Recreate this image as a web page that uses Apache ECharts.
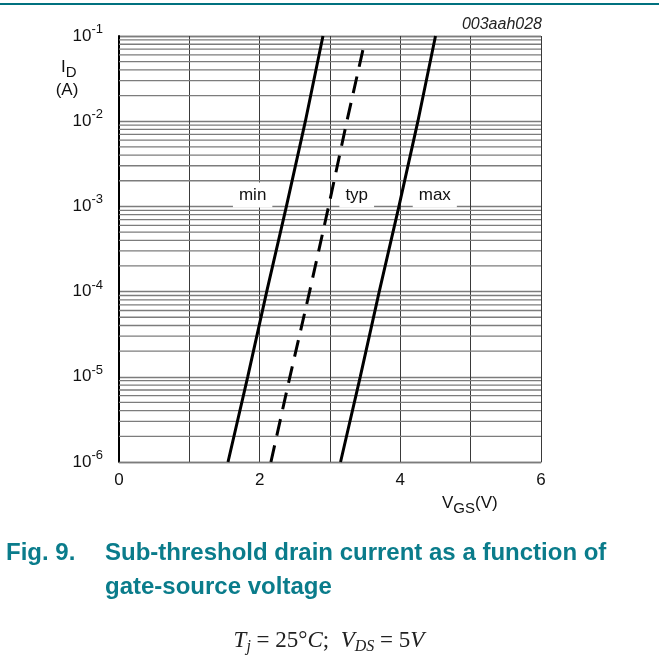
<!DOCTYPE html>
<html>
<head>
<meta charset="utf-8">
<script src="https://cdn.jsdelivr.net/npm/echarts@6/dist/echarts.min.js"></script>
<style>
  html, body { margin: 0; padding: 0; background: #fff; }
  #chart { width: 659px; height: 670px; }
</style>
</head>
<body>
<div id="chart"></div>
<script>
// Sub-threshold drain current I_D (A) against gate-source voltage V_GS (V)
const currentLevels = [1e-6, 1e-5, 1e-4, 1e-3, 1e-2, 1e-1];
const vgsMin = [1.55, 1.83, 2.10, 2.38, 2.65, 2.90];
const vgsTyp = [2.16, 2.43, 2.71, 2.98, 3.24, 3.48];
const idTyp  = [1e-6, 1e-5, 1e-4, 1e-3, 1e-2, 7.6e-2];
const vgsMax = [3.15, 3.43, 3.70, 3.98, 4.25, 4.50];
const xTickLabels = ['0', '2', '4', '6'];

const pair = (xs, ys) => xs.map((x, i) => [x, ys[i]]);

// 2..9 x 10^n lines between the decades
const minorLevels = [];
for (let e = -6; e < -1; e++) {
  for (let m = 2; m <= 9; m++) minorLevels.push(m * Math.pow(10, e));
}

const TEAL = '#0a7c8b';
const GRID_H = '#7c7c7c';
const FONT = 'Liberation Sans, Arial, sans-serif';
const SERIF = 'Liberation Serif, Times New Roman, serif';

const chart = echarts.init(document.getElementById('chart'), null, { renderer: 'canvas' });

const curveStyle = { color: '#000', width: 3 };

// one thin horizontal rule per minor log level, spanning the x range
const minorGridSeries = minorLevels.map(v => ({
  type: 'line',
  data: [[0, v], [6, v]],
  symbol: 'none',
  silent: true,
  z: 1,
  lineStyle: { color: GRID_H, width: 1.3 }
}));

chart.setOption({
  animation: false,
  backgroundColor: '#fff',
  grid: { left: 119, right: 118, top: 36, bottom: 208 },
  xAxis: {
    type: 'value',
    min: 0, max: 6, interval: 1,
    axisLine: { show: true, lineStyle: { color: GRID_H, width: 1.3 } },
    axisTick: { show: false },
    axisLabel: {
      margin: 10,
      fontFamily: FONT, fontSize: 17, color: '#111',
      formatter: v => (xTickLabels.includes(String(v)) ? String(v) : '')
    },
    splitLine: { show: true, lineStyle: { color: '#3a3a3a', width: 1 } }
  },
  yAxis: {
    type: 'log',
    logBase: 10,
    min: 1e-6, max: 1e-1,
    axisLine: { show: true, lineStyle: { color: '#000', width: 2 } },
    axisTick: { show: false },
    axisLabel: {
      margin: 16,
      formatter: v => '{a|10}{b|' + Math.round(Math.log10(v)) + '}',
      rich: {
        a: { fontFamily: FONT, fontSize: 17, color: '#111' },
        b: { fontFamily: FONT, fontSize: 13, color: '#111', padding: [0, 0, 13, 0] }
      }
    },
    splitLine: { show: true, lineStyle: { color: GRID_H, width: 1.3 } }
  },
  series: minorGridSeries.concat([
    {
      name: 'min', type: 'line', data: pair(vgsMin, currentLevels),
      symbol: 'none', lineStyle: curveStyle, z: 5
    },
    {
      name: 'typ', type: 'line', data: pair(vgsTyp, idTyp),
      symbol: 'none', lineStyle: { color: '#000', width: 3, type: [17, 10] }, z: 5
    },
    {
      name: 'max', type: 'line', data: pair(vgsMax, currentLevels),
      symbol: 'none', lineStyle: curveStyle, z: 5
    },
    {
      name: 'curve-names',
      type: 'scatter',
      symbolSize: 0,
      silent: true,
      z: 6,
      itemStyle: { opacity: 1 },
      data: [
        { value: [1.90, 1.36e-3], name: 'min' },
        { value: [3.38, 1.36e-3], name: 'typ' },
        { value: [4.49, 1.36e-3], name: 'max' }
      ],
      label: {
        show: true,
        position: 'inside',
        formatter: p => p.name,
        fontFamily: FONT, fontSize: 17, color: '#111',
        opacity: 1,
        backgroundColor: '#fff',
        padding: [4, 6, 4, 6]
      }
    }
  ]),
  graphic: [
    { type: 'rect', shape: { x: 0, y: 3, width: 659, height: 2 }, style: { fill: '#00717f' } },
    {
      type: 'text', x: 542, y: 25,
      style: { text: '003aah028', fontFamily: FONT, fontSize: 16, fontStyle: 'italic', fill: '#222', align: 'right', verticalAlign: 'middle' }
    },
    {
      type: 'text', x: 61, y: 67,
      style: {
        text: '{i|I}{d|D}',
        verticalAlign: 'middle',
        rich: {
          i: { fontFamily: FONT, fontSize: 17, fill: '#111' },
          d: { fontFamily: FONT, fontSize: 15, fill: '#111', padding: [11, 0, 0, 0] }
        }
      }
    },
    {
      type: 'text', x: 67, y: 90,
      style: { text: '(A)', fontFamily: FONT, fontSize: 17, fill: '#111', align: 'center', verticalAlign: 'middle' }
    },
    {
      type: 'text', x: 442, y: 503,
      style: {
        text: '{v|V}{s|GS}{v|(V)}',
        verticalAlign: 'middle',
        rich: {
          v: { fontFamily: FONT, fontSize: 17, fill: '#111' },
          s: { fontFamily: FONT, fontSize: 15, fill: '#111', padding: [12, 0, 0, 0] }
        }
      }
    },
    {
      type: 'text', x: 6, y: 553,
      style: { text: 'Fig. 9.', fontFamily: FONT, fontSize: 24, fontWeight: 'bold', fill: TEAL, verticalAlign: 'middle' }
    },
    {
      type: 'text', x: 105, y: 553,
      style: { text: 'Sub-threshold drain current as a function of', fontFamily: FONT, fontSize: 24, fontWeight: 'bold', fill: TEAL, verticalAlign: 'middle' }
    },
    {
      type: 'text', x: 105, y: 587,
      style: { text: 'gate-source voltage', fontFamily: FONT, fontSize: 24, fontWeight: 'bold', fill: TEAL, verticalAlign: 'middle' }
    },
    {
      type: 'text', x: 329, y: 641,
      style: {
        text: '{it|T}{sb|j}{rm| = 25°}{it|C}{rm|;  }{it|V}{sb|DS}{rm| = 5}{it|V}',
        align: 'center', verticalAlign: 'middle',
        rich: {
          it: { fontFamily: SERIF, fontSize: 23, fontStyle: 'italic', fill: '#222' },
          rm: { fontFamily: SERIF, fontSize: 23, fill: '#222' },
          sb: { fontFamily: SERIF, fontSize: 16, fontStyle: 'italic', fill: '#222', padding: [12, 0, 0, 0] }
        }
      }
    }
  ]
});
</script>
</body>
</html>
